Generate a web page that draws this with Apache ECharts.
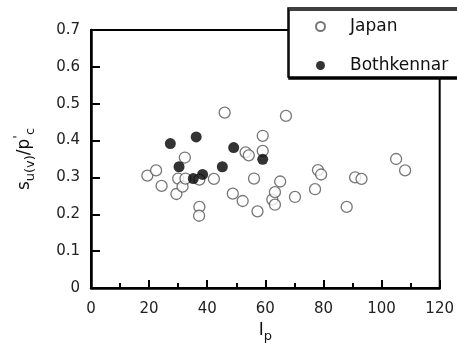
<!DOCTYPE html>
<html>
<head>
<meta charset="utf-8">
<script src="https://cdn.jsdelivr.net/npm/echarts@6/dist/echarts.min.js"></script>
<style>
    html, body { margin: 0; padding: 0; background: #fff; }
    #chart { width: 457px; height: 351px; }
</style>
</head>
<body>
<div id="chart"></div>
<script>
// Ip / su(v)/p'c
var japanIp = [19.4, 22.4, 24.3, 29.4, 30.0, 31.5, 32.3, 32.5, 37.3, 37.3, 37.2, 42.3,
    46.0, 48.8, 52.2, 53.2, 54.3, 56.1, 57.3, 59.1, 59.1, 62.4, 63.3, 63.3, 65.1,
    67.1, 70.2, 77.1, 78.1, 79.2, 88.0, 90.9, 93.1, 105.0, 108.1];
var japanSu = [0.305, 0.319, 0.277, 0.255, 0.297, 0.275, 0.354, 0.297, 0.294, 0.220, 0.196, 0.296,
    0.476, 0.256, 0.236, 0.368, 0.360, 0.297, 0.208, 0.413, 0.372, 0.240, 0.260, 0.226, 0.289,
    0.467, 0.247, 0.268, 0.320, 0.308, 0.220, 0.300, 0.296, 0.350, 0.319];
var bothIp = [27.3, 30.3, 35.2, 36.2, 38.4, 45.2, 49.1, 59.1];
var bothSu = [0.392, 0.329, 0.297, 0.410, 0.308, 0.329, 0.381, 0.349];

var font = 'DejaVu Sans';

function pairs(xs, ys) {
    var out = [];
    for (var i = 0; i < xs.length; i++) {
        out.push([xs[i], ys[i]]);
    }
    return out;
}

var chart = echarts.init(document.getElementById('chart'));

var option = {
    animation: false,
    grid: {
        left: 91,
        right: 14,
        top: 30,
        bottom: 63,
        show: true,
        borderColor: '#000',
        borderWidth: 2
    },
    legend: {
        orient: 'vertical',
        left: 288,
        top: 8,
        padding: [10, 20, 3, 27],
        itemGap: 22,
        itemWidth: 9,
        itemHeight: 9,
        backgroundColor: '#fff',
        borderColor: '#000',
        borderWidth: 1.5,
        shadowColor: '#000',
        shadowOffsetX: 1,
        shadowOffsetY: 2,
        shadowBlur: 0,
        textStyle: {
            fontFamily: font,
            fontSize: 17,
            color: '#111',
            padding: [0, 0, 0, 20]
        },
        data: ['Japan', 'Bothkennar']
    },
    xAxis: {
        type: 'value',
        min: 0,
        max: 120,
        interval: 20,
        name: '{a|I}{b|p}',
        nameLocation: 'middle',
        nameGap: 26,
        nameTextStyle: {
            rich: {
                a: { fontFamily: font, fontSize: 17, color: '#111' },
                b: { fontFamily: font, fontSize: 13, color: '#111', padding: [12, 0, 0, 0] }
            }
        },
        axisLine: { lineStyle: { color: '#000', width: 2.5 } },
        axisTick: { inside: true, length: 8, lineStyle: { color: '#000', width: 2 } },
        minorTick: { show: true, splitNumber: 2, length: 5, lineStyle: { color: '#000', width: 2 } },
        splitLine: { show: false },
        axisLabel: { fontFamily: font, fontSize: 15, color: '#222', margin: 14 }
    },
    yAxis: {
        type: 'value',
        min: 0,
        max: 0.7,
        interval: 0.1,
        name: '{a|s}{b|u(v)}{a|/p}{s|\'}{b|c}',
        nameLocation: 'middle',
        nameRotate: 90,
        nameGap: 54,
        nameTextStyle: {
            rich: {
                a: { fontFamily: font, fontSize: 17, color: '#111' },
                b: { fontFamily: font, fontSize: 13, color: '#111', padding: [12, 0, 0, 0] },
                s: { fontFamily: font, fontSize: 13, color: '#111', padding: [0, 0, 12, 0] }
            }
        },
        axisLine: { lineStyle: { color: '#000', width: 2.5 } },
        axisTick: { inside: true, length: 9, lineStyle: { color: '#000', width: 2 } },
        splitLine: { show: false },
        axisLabel: { fontFamily: font, fontSize: 15, color: '#222', margin: 11 }
    },
    series: [{
            name: 'Japan',
            type: 'scatter',
            symbol: 'circle',
            symbolSize: 11,
            itemStyle: {
                color: '#fff',
                borderColor: '#555',
                borderWidth: 1.3
            },
            data: pairs(japanIp, japanSu)
        },
        {
            name: 'Bothkennar',
            type: 'scatter',
            symbol: 'circle',
            symbolSize: 11,
            itemStyle: {
                color: '#000'
            },
            data: pairs(bothIp, bothSu)
        }
    ]
};

chart.setOption(option);
</script>
</body>
</html>
